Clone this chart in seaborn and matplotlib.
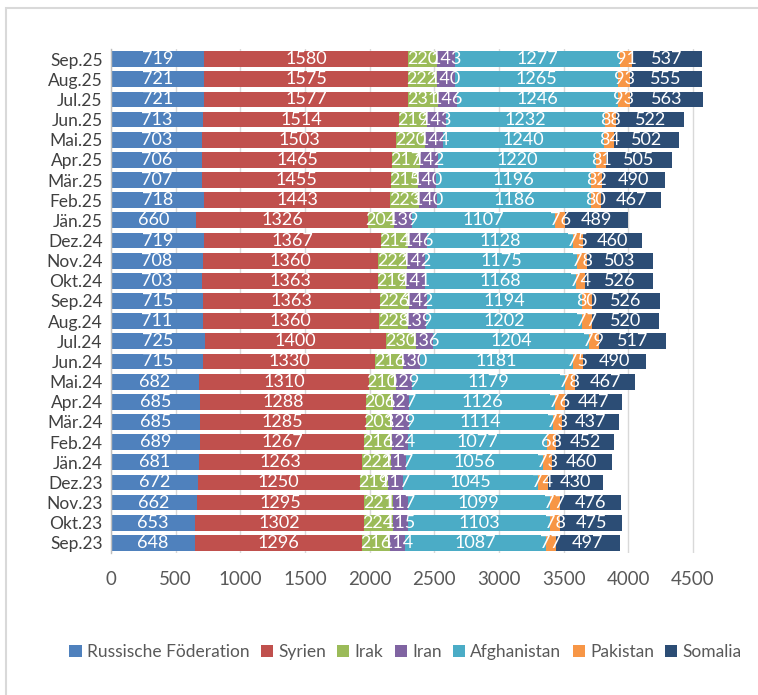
import matplotlib
matplotlib.use("Agg")
import matplotlib.pyplot as plt
from matplotlib.patches import Patch, Rectangle
import seaborn as sns
import numpy as np

months = ['Sep.25', 'Aug.25', 'Jul.25', 'Jun.25', 'Mai.25', 'Apr.25', 'Mär.25',
          'Feb.25', 'Jän.25', 'Dez.24', 'Nov.24', 'Okt.24', 'Sep.24', 'Aug.24',
          'Jul.24', 'Jun.24', 'Mai.24', 'Apr.24', 'Mär.24', 'Feb.24', 'Jän.24',
          'Dez.23', 'Nov.23', 'Okt.23', 'Sep.23']

russland = [719, 721, 721, 713, 703, 706, 707, 718, 660, 719, 708, 703, 715,
            711, 725, 715, 682, 685, 685, 689, 681, 672, 662, 653, 648]
syrien = [1580, 1575, 1577, 1514, 1503, 1465, 1455, 1443, 1326, 1367, 1360, 1363, 1363,
          1360, 1400, 1330, 1310, 1288, 1285, 1267, 1263, 1250, 1295, 1302, 1296]
irak = [220, 222, 231, 219, 220, 217, 215, 223, 204, 214, 222, 219, 226,
        228, 230, 216, 210, 206, 203, 216, 222, 219, 221, 224, 216]
iran = [143, 140, 146, 143, 144, 142, 140, 140, 139, 146, 142, 141, 142,
        139, 136, 130, 129, 127, 129, 124, 117, 117, 117, 115, 114]
afghanistan = [1277, 1265, 1246, 1232, 1240, 1220, 1196, 1186, 1107, 1128, 1175, 1168, 1194,
               1202, 1204, 1181, 1179, 1126, 1114, 1077, 1056, 1045, 1099, 1103, 1087]
pakistan = [91, 93, 93, 88, 84, 81, 82, 80, 76, 75, 78, 74, 80,
            77, 79, 75, 78, 76, 73, 68, 73, 74, 77, 78, 77]
somalia = [537, 555, 563, 522, 502, 505, 490, 467, 489, 460, 503, 526, 526,
           520, 517, 490, 467, 447, 437, 452, 460, 430, 476, 475, 497]

series_names = ['Russische Föderation', 'Syrien', 'Irak', 'Iran',
                'Afghanistan', 'Pakistan', 'Somalia']
series = [russland, syrien, irak, iran, afghanistan, pakistan, somalia]
colors = ['#4F81BD', '#C0504D', '#9BBB59', '#8064A2', '#4BACC6', '#F79646', '#2C4D75']

sns.set_style("white")
plt.rcParams['font.family'] = ['Lato', 'DejaVu Sans']

fig = plt.figure(figsize=(7.58, 6.95), dpi=100)
ax = fig.add_axes([111 / 758, 1 - 553 / 695, (4600 * 0.1293) / 758, (553 - 49) / 695])

vals = np.array(series)
cums = np.cumsum(vals, axis=0)

# stacked bars: draw cumulative totals back to front
for k in range(len(series) - 1, -1, -1):
    sns.barplot(x=cums[k], y=months, order=months, orient='h', color=colors[k],
                saturation=1, width=0.78, linewidth=0, ax=ax)

# segment labels
for k in range(len(series)):
    starts = cums[k] - vals[k]
    for i in range(len(months)):
        ax.text(starts[i] + vals[k][i] / 2, i, str(vals[k][i]), ha='center', va='center',
                color='white', fontsize=13)

ax.set_xlim(0, 4600)
ax.set_ylim(len(months) - 0.5, -0.5)
ax.set_xticks(np.arange(0, 5000, 500))
ax.set_xlabel('')
ax.set_ylabel('')
ax.grid(axis='x', color='#D9D9D9', linewidth=1)
ax.set_axisbelow(True)
for s in ['top', 'right', 'bottom']:
    ax.spines[s].set_visible(False)
ax.spines['left'].set_color('#BFBFBF')
ax.spines['left'].set_linewidth(1)
ax.set_yticks(np.arange(-0.5, len(months), 1), minor=True)
ax.tick_params(axis='y', which='major', length=0, pad=6, labelsize=12.5, labelcolor='#404040')
ax.tick_params(axis='y', which='minor', length=5, color='#BFBFBF', width=1)
ax.tick_params(axis='x', length=0, pad=13, labelsize=13.5, labelcolor='#595959')

handles = [Patch(facecolor=c, edgecolor='none') for c in colors]
fig.legend(handles, series_names, loc='center', bbox_to_anchor=(0.535, 1 - 652 / 695),
           ncol=7, frameon=False, fontsize=12.5, handlelength=0.7, handleheight=0.7,
           handletextpad=0.3, columnspacing=0.65, labelcolor='#595959')

# outer chart border (only left/top visible in the crop)
fig.patches.append(Rectangle((6 / 758, -0.2), 1.5, 1.2 - 8 / 695,
                             transform=fig.transFigure, fill=False,
                             edgecolor='#D9D9D9', linewidth=1.5))

fig.savefig('out.png', dpi=100)
